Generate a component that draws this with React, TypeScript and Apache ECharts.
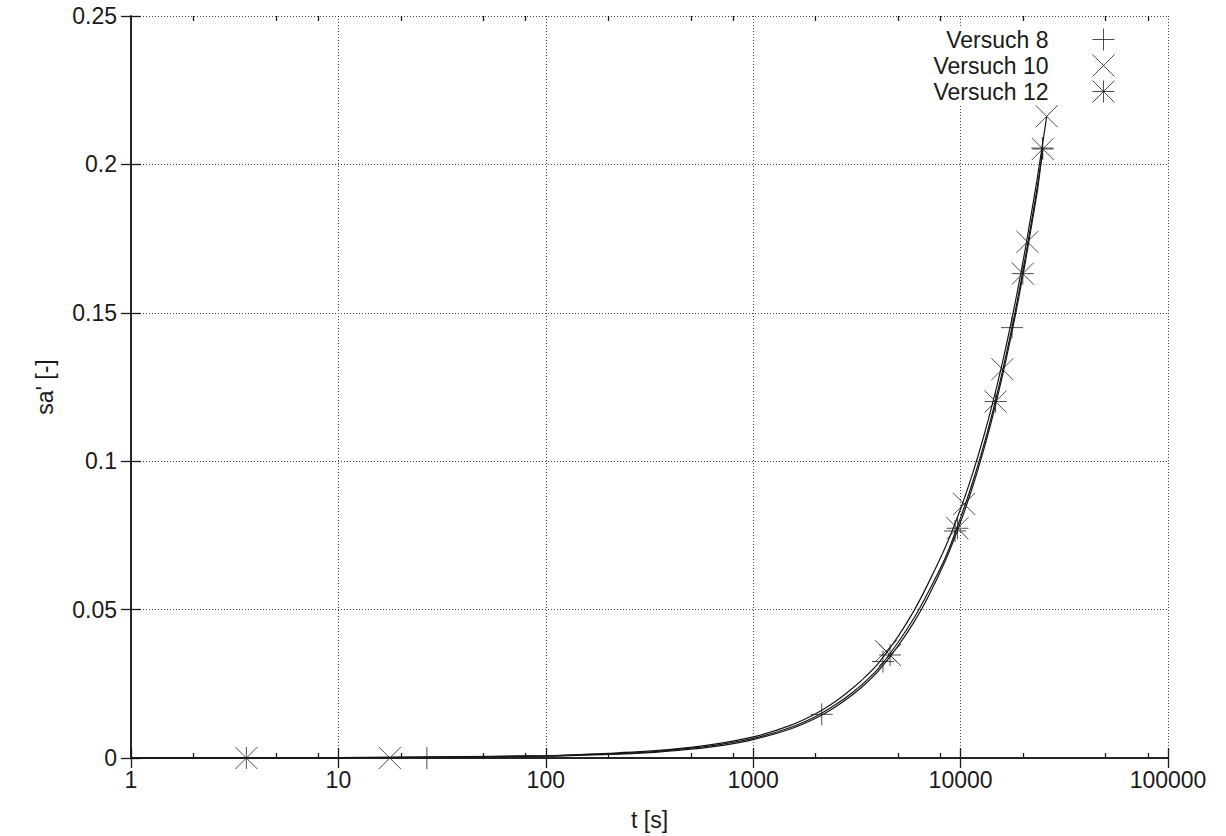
import React, { useEffect, useRef } from 'react';
import * as echarts from 'echarts';

const FONT = '"Liberation Sans", Arial, Helvetica, sans-serif';
const INK = '#1a1a1a';

// Measured points (t [s], sa' [-])
const v8T = [26.7, 2140, 4225, 9400, 17700, 24800];
const v8S = [0, 0.0147, 0.0325, 0.0765, 0.145, 0.2055];
const v10T = [17.7, 4365, 10400, 15900, 21000, 26000];
const v10S = [0, 0.036, 0.0856, 0.131, 0.1739, 0.2162];
const v12T = [3.6, 4570, 9660, 14750, 19950, 24900];
const v12S = [0, 0.0347, 0.0774, 0.1201, 0.1632, 0.2052];

// Fitted curves
const fit8T = [1, 10, 30, 100, 200, 300, 500, 700, 1000, 1500, 2000, 2500, 3000, 3500, 4000, 5000, 6000, 7000, 8500, 10000, 11500, 13000, 14500, 16000, 17500, 19000, 20500, 22000, 23500, 24800];
const fit8S = [0, 0.00008, 0.00025, 0.0006, 0.0012, 0.0017, 0.003, 0.0042, 0.0062, 0.0097, 0.0134, 0.0173, 0.0212, 0.0252, 0.0292, 0.0378, 0.0461, 0.0545, 0.067, 0.0795, 0.092, 0.1045, 0.117, 0.1295, 0.142, 0.1545, 0.167, 0.1795, 0.1915, 0.2045];
const fit10T = [1, 10, 30, 100, 200, 300, 500, 700, 1000, 1500, 2000, 2500, 3000, 3500, 4000, 5000, 6000, 7000, 8500, 10000, 11500, 13000, 14500, 16000, 17500, 19000, 20500, 22000, 23500, 26000];
const fit10S = [0, 0.00012, 0.00035, 0.0008, 0.0016, 0.0022, 0.0036, 0.005, 0.0071, 0.0109, 0.0149, 0.0191, 0.0234, 0.0276, 0.0318, 0.041, 0.05, 0.059, 0.0715, 0.084, 0.0965, 0.109, 0.1215, 0.134, 0.1465, 0.159, 0.1715, 0.184, 0.196, 0.216];
const fit12T = [1, 10, 30, 100, 200, 300, 500, 700, 1000, 1500, 2000, 2500, 3000, 3500, 4000, 5000, 6000, 7000, 8500, 10000, 11500, 13000, 14500, 16000, 17500, 19000, 20500, 22000, 23500, 24900];
const fit12S = [0, 0.0001, 0.0003, 0.0007, 0.0014, 0.0019, 0.0033, 0.0046, 0.0066, 0.0102, 0.014, 0.018, 0.022, 0.026, 0.03, 0.039, 0.0475, 0.056, 0.068, 0.081, 0.0935, 0.106, 0.1185, 0.131, 0.1435, 0.156, 0.1685, 0.181, 0.193, 0.205];

const seriesNames = ['Versuch 8', 'Versuch 10', 'Versuch 12'];
const xMinorTicks = [2, 5, 8, 20, 50, 80, 200, 500, 800, 2000, 5000, 8000, 20000, 50000, 80000];
const X_MIN = 1;
const X_MAX = 100000;
const Y_MIN = 0;
const Y_MAX = 0.25;

const PLUS = 'path://M0,10L20,10M10,0L10,20';
const CROSS = 'path://M0,0L20,20M20,0L0,20';
const STAR = 'path://M0,10L20,10M10,0L10,20M0,0L20,20M20,0L0,20';
const icons = [PLUS, CROSS, STAR];

const zip = (a: number[], b: number[]) => a.map((x, i) => [x, b[i]]);

const markStyle = { color: 'rgba(0,0,0,0)', borderColor: '#222', borderWidth: 1 };

export default function App() {
  const ref = useRef<HTMLDivElement>(null);
  useEffect(() => {
    if (!ref.current) return;
    const chart = echarts.init(ref.current, undefined, { renderer: 'svg' });
    const axisLineStyle = { color: INK, width: 1.5 };
    const tickLine = { color: INK, width: 1.3 };
    const baseX = { type: 'log', logBase: 10, min: X_MIN, max: X_MAX, gridIndex: 0 };
    // helper axes in decade units (log10 of t), used only to carry the minor ticks
    const decadeX = { type: 'value', min: Math.log10(X_MIN), max: Math.log10(X_MAX), gridIndex: 0 };
    const minorDecades = xMinorTicks.map((v) => Math.log10(v));
    const pointsT = [v8T, v10T, v12T];
    const pointsS = [v8S, v10S, v12S];
    const fitsT = [fit8T, fit10T, fit12T];
    const fitsS = [fit8S, fit10S, fit12S];

    const option: any = {
      animation: false,
      backgroundColor: '#fff',
      textStyle: { fontFamily: FONT },
      grid: { left: 131, right: 58, top: 16, bottom: 78, containLabel: false },
      graphic: [
        { type: 'rect', left: 925, top: 27, shape: { width: 215, height: 79 }, style: { fill: '#fff' }, z: 1, silent: true },
      ],
      legend: seriesNames.map((n, i) => ({
        data: [{ name: n, icon: icons[i] }],
        right: 111,
        top: 28 + i * 26,
        orient: 'horizontal',
        align: 'right',
        itemWidth: 100,
        itemHeight: 22,
        padding: 0,
        selectedMode: false,
        symbolKeepAspect: true,
        itemStyle: { color: 'rgba(0,0,0,0)', borderColor: '#222', borderWidth: 1 },
        textStyle: { fontSize: 23, color: INK, fontFamily: FONT },
      })),
      xAxis: [
        {
          ...baseX,
          position: 'bottom',
          name: 't [s]',
          nameLocation: 'middle',
          nameGap: 50,
          nameTextStyle: { fontSize: 23, color: INK, fontFamily: FONT },
          axisLine: { show: true, lineStyle: axisLineStyle },
          axisTick: { show: true, inside: true, length: 10, lineStyle: tickLine },
          axisLabel: {
            show: true, fontSize: 23, color: INK, margin: 10, fontFamily: FONT,
            formatter: (v: number) => String(Math.round(v)),
          },
          splitLine: { show: true, lineStyle: { type: [1, 2], color: '#444', width: 1 } },
        },
        {
          ...baseX,
          position: 'top',
          axisLine: { show: true, lineStyle: axisLineStyle },
          axisTick: { show: true, inside: true, length: 10, lineStyle: tickLine },
          axisLabel: { show: false },
          splitLine: { show: false },
        },
        {
          ...decadeX,
          position: 'bottom',
          axisLine: { show: false },
          axisTick: { show: true, inside: true, length: 5, lineStyle: tickLine, customValues: minorDecades },
          axisLabel: { show: false },
          splitLine: { show: false },
        },
        {
          ...decadeX,
          position: 'top',
          axisLine: { show: false },
          axisTick: { show: true, inside: true, length: 5, lineStyle: tickLine, customValues: minorDecades },
          axisLabel: { show: false },
          splitLine: { show: false },
        },
      ],
      yAxis: [
        {
          type: 'value', min: Y_MIN, max: Y_MAX, interval: 0.05, position: 'left',
          name: "sa' [-]",
          nameLocation: 'middle',
          nameGap: 75,
          nameTextStyle: { fontSize: 23, color: INK, fontFamily: FONT },
          axisLine: { show: true, lineStyle: axisLineStyle },
          axisTick: { show: true, inside: true, length: 10, lineStyle: tickLine },
          axisLabel: { fontSize: 23, color: INK, margin: 14, fontFamily: FONT },
          splitLine: { show: true, lineStyle: { type: [1, 2], color: '#444', width: 1 } },
        },
        {
          type: 'value', min: Y_MIN, max: Y_MAX, interval: 0.05, position: 'right',
          axisLine: { show: true, lineStyle: axisLineStyle },
          axisTick: { show: true, inside: true, length: 10, lineStyle: tickLine },
          axisLabel: { show: false },
          splitLine: { show: false },
        },
      ],
      series: [
        ...seriesNames.map((n, i) => ({
          name: 'fit ' + n,
          type: 'line',
          xAxisIndex: 0,
          yAxisIndex: 0,
          data: zip(fitsT[i], fitsS[i]),
          showSymbol: false,
          symbol: 'none',
          smooth: 0.3,
          lineStyle: { color: '#161616', width: 1.2 },
          z: 2,
          silent: true,
        })),
        ...seriesNames.map((n, i) => ({
          name: n,
          type: 'scatter',
          xAxisIndex: 0,
          yAxisIndex: 0,
          data: zip(pointsT[i], pointsS[i]),
          symbol: icons[i],
          symbolSize: 22,
          symbolKeepAspect: true,
          itemStyle: markStyle,
          z: 3,
          silent: true,
        })),
      ],
    };
    chart.setOption(option);
    return () => chart.dispose();
  }, []);
  return (
    <div
      ref={ref}
      style={{ position: 'fixed', left: 0, top: 0, width: 1226, height: 836, background: '#fff' }}
    />
  );
}
